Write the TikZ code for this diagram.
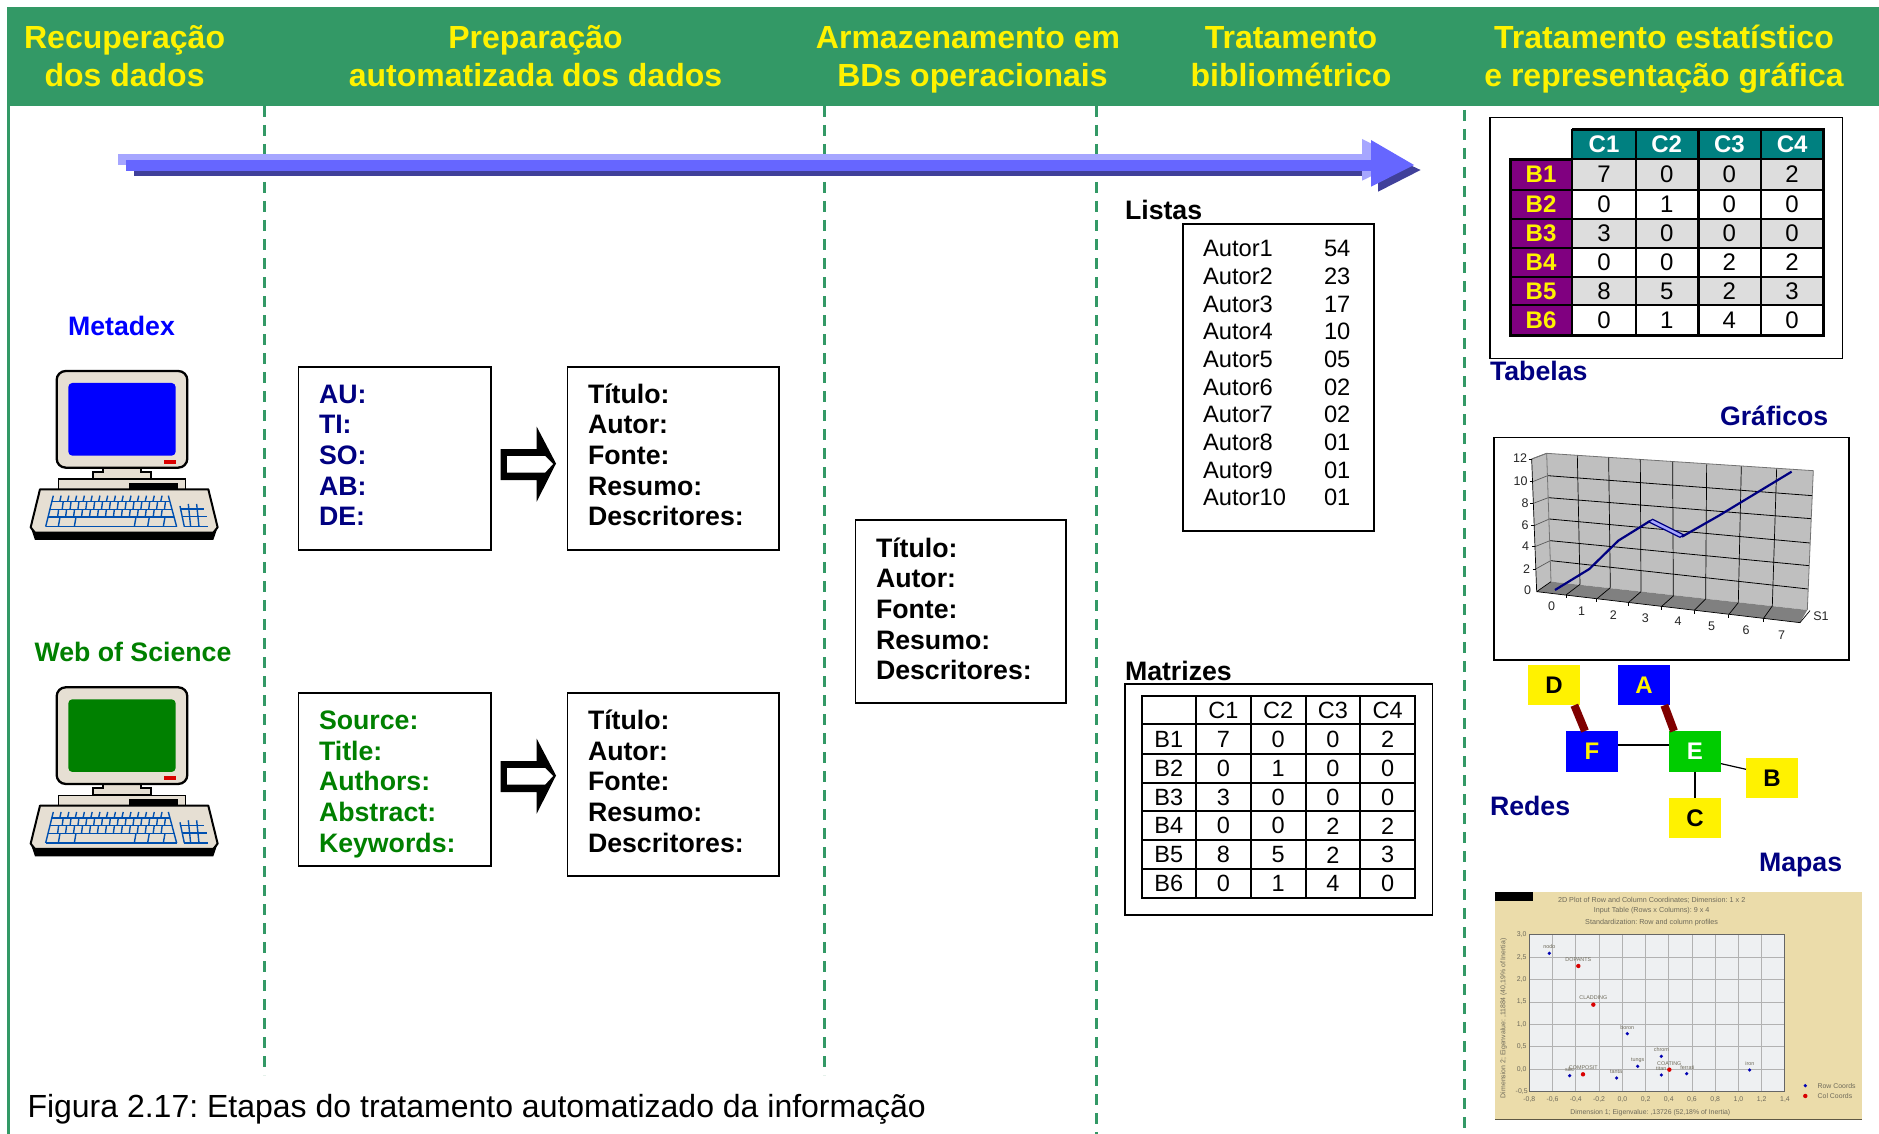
\documentclass[tikz,border=0pt]{standalone}
\usepackage{fontspec}
\setmainfont{Liberation Sans}
\usetikzlibrary{calc}
\definecolor{hgreen}{HTML}{339966}
\definecolor{navyb}{HTML}{000080}
\definecolor{wgreen}{HTML}{008000}
\definecolor{bluep}{HTML}{0000FF}
\definecolor{beige}{HTML}{E6DFD3}
\definecolor{keyblue}{HTML}{0050B0}
\definecolor{tealh}{HTML}{008080}
\definecolor{purp}{HTML}{800080}
\definecolor{cellg}{HTML}{DDDDDD}
\definecolor{darkred}{HTML}{800000}
\definecolor{aLight}{HTML}{A6A6FF}
\definecolor{aMain}{HTML}{6666FF}
\definecolor{aDark}{HTML}{40409A}
\definecolor{mapbg}{HTML}{EBDCAA}
\definecolor{mapplot}{HTML}{EEF0F2}
\definecolor{maptxt}{HTML}{6E6A5A}
\tikzset{
  every node/.style={inner sep=0pt,outer sep=0pt},
  headtxt/.style={font=\fontsize{32}{38.3}\selectfont\bfseries,text=yellow,align=center},
  labeltxt/.style={font=\fontsize{26.7}{30.6}\selectfont\bfseries,align=left,anchor=west},
  listtxt/.style={font=\fontsize{23.7}{28}\selectfont,anchor=west},
  framebox/.style={draw=black,line width=1.4pt,fill=white},
  phasedash/.style={draw=hgreen,line width=3pt,dash pattern=on 11pt off 8pt},
  tabhead/.style={font=\fontsize{24}{28}\selectfont\bfseries},
  tabcell/.style={font=\fontsize{24}{28}\selectfont},
  matcell/.style={font=\fontsize{23.5}{28}\selectfont},
  netnode/.style={minimum width=52pt,minimum height=40.5pt,font=\fontsize{24}{28}\selectfont\bfseries},
  charttxt/.style={font=\fontsize{12.5}{15}\selectfont,text=black!85},
  maptext/.style={font=\fontsize{6.9}{8}\selectfont,text=maptxt},
  maptitle/.style={font=\fontsize{7.2}{8}\selectfont,text=maptxt},
  maplab/.style={font=\fontsize{5.4}{7}\selectfont,text=maptxt},
}
\newcommand{\drawcomputer}[2]{%
  \begin{scope}[shift={(0,#1)},x=0.3333pt,y=-0.3333pt]
    \draw[fill=beige,line width=1.2pt] (175,537) rectangle (557,572);
    \fill[black] (388,548) rectangle (533,570);
    \draw[fill=beige,line width=2pt] (310,503)--(310,515)--(280,515)--(280,537)--(452,537)--(452,515)--(422,515)--(422,503);
    \draw[fill=beige,line width=2.3pt,rounded corners=9pt] (170,213) rectangle (562,503);
    \fill[#2,rounded corners=4pt] (205,249) rectangle (527,467);
    \fill[red!85!black] (491,480) rectangle (528,492);
    \fill[black] (92,682)--(105,720)--(640,720)--(653,682)--cycle;
    \draw[fill=beige,line width=2pt,line join=round] (120,568)--(625,568)--(653,682)--(640,698)--(105,698)--(92,682)--cycle;
    \begin{scope}[draw=keyblue,line width=1.4pt]
      \draw (155,605)--(510,605) (150,628)--(516,628) (144,651)--(522,651) (137,680)--(530,680);
      \draw (160,587)--(137,680) (505,587)--(530,680);
      \foreach \k in {1,...,14}{
        \pgfmathsetmacro\xa{160+23.3*\k}
        \draw (\xa,587)--(\xa-4,605);
        \pgfmathsetmacro\xb{166+23.6*\k}
        \draw (\xb,605)--(\xb-3,628);
        \pgfmathsetmacro\xc{152+23.9*\k}
        \draw (\xc,628)--(\xc-3,651);
      }
      \foreach \k in {180,228,408,448,495}{\draw (\k,651)--(\k-5,680);}
      \draw (540,618)--(553,680) (565,612)--(572,680) (590,612)--(597,680);
      \draw (540,627)--(613,627) (546,650)--(620,650) (553,680)--(625,680);
    \end{scope}
  \end{scope}}
\newcommand{\hollowarrow}[1]{%
  \begin{scope}[shift={(0,#1)}]
    \fill[black] (500.7,449)--(536.7,449)--(536.7,426.7)--(556,463.5)--(536.7,501.7)--(536.7,480)--(500.7,480)--cycle;
    \fill[white] (507,456)--(545,456)--(553,464)--(545,472.7)--(507,472.7)--cycle;
  \end{scope}}
\begin{document}
\frenchspacing
\begin{tikzpicture}[x=1pt,y=-1pt]
\useasboundingbox (0,0) rectangle (1879,1134);
\fill[white] (0,0) rectangle (1879,1134);
% header and phase lines
\fill[hgreen] (7,7) rectangle (1879,106);
\fill[hgreen] (7,106) rectangle (10,1134);
\coordinate (d1t) at (264.3,106); \coordinate (d1b) at (264.3,1075);
\coordinate (d2t) at (824,106);   \coordinate (d2b) at (824,1075);
\coordinate (d3t) at (1096,106);  \coordinate (d3b) at (1096,1134);
\coordinate (d4t) at (1464.6,110);\coordinate (d4b) at (1464.6,1134);
\draw[phasedash] (d1t)--(d1b);
\draw[phasedash] (d2t)--(d2b);
\draw[phasedash] (d3t)--(d3b);
\draw[phasedash] (d4t)--(d4b);
\node[headtxt] (h1) at (124.6,59.6) {\strut Recuperação\\\strut dos dados};
\node[headtxt] (h2) at (535.5,59.6) {\strut Preparação\\\strut automatizada dos dados};
\node[headtxt] (h3) at (968,59.6) {\strut Armazenamento em\\\hspace*{9pt}\strut BDs operacionais};
\node[headtxt] (h4) at (1291,59.6) {\strut Tratamento\\\strut bibliométrico};
\node[headtxt] (h5) at (1664,59.6) {\strut Tratamento estatístico\\\strut e representação gráfica};
% big arrow
\fill[aDark] (134,170.7)--(1385,170.7)--(1385,176)--(134,176)--cycle;
\fill[aDark] (1378,150)--(1420.6,170)--(1378,191.7)--cycle;
\fill[aLight] (118,154)--(1370,154)--(1370,165)--(118,165)--cycle;
\fill[aLight] (1362,139)--(1405,160)--(1362,180.7)--cycle;
\fill[aMain] (126,160)--(1375,160)--(1375,170.7)--(126,170.7)--cycle;
\fill[aMain] (1371,140)--(1414,165)--(1371,186.7)--cycle;
% computers
\node[labeltxt,anchor=center,text=bluep] (metadex) at (121.5,326) {Metadex};
\drawcomputer{300}{bluep}
\node[labeltxt,anchor=center,text=wgreen] (wos) at (133,652) {Web of Science};
\drawcomputer{616.3}{wgreen}
% preparation boxes
\draw[framebox] (298.5,367) rectangle (491,550);
\draw[framebox] (567.7,367) rectangle (779,550);
\draw[framebox] (298.5,693) rectangle (491,866);
\draw[framebox] (567.7,693) rectangle (779,876);
\draw[framebox] (855.5,520) rectangle (1066,703);
\node[labeltxt,text=navyb] (pa) at (319,458.4) {\strut AU:\\\strut TI:\\\strut SO:\\\strut AB:\\\strut DE:};
\node[labeltxt] (pb) at (588,458.4) {\strut Título:\\\strut Autor:\\\strut Fonte:\\\strut Resumo:\\\strut Descritores:};
\node[labeltxt,text=wgreen] (pc) at (319,784.8) {\strut Source:\\\strut Title:\\\strut Authors:\\\strut Abstract:\\\strut Keywords:};
\node[labeltxt] (pd) at (588,784.8) {\strut Título:\\\strut Autor:\\\strut Fonte:\\\strut Resumo:\\\strut Descritores:};
\node[labeltxt] (pe) at (876,612.4) {\strut Título:\\\strut Autor:\\\strut Fonte:\\\strut Resumo:\\\strut Descritores:};
\hollowarrow{0}
\hollowarrow{312}
% lists
\node[labeltxt] (listas) at (1125,210) {Listas};
\draw[framebox] (1183,224) rectangle (1374,531);
\foreach \a/\v [count=\i] in {Autor1/54,Autor2/23,Autor3/17,Autor4/10,Autor5/05,Autor6/02,Autor7/02,Autor8/01,Autor9/01,Autor10/01}{
  \pgfmathsetmacro\ly{248.5+27.7*(\i-1)}
  \node[listtxt] (la\i) at (1203,\ly) {\a};
  \node[listtxt] (lv\i) at (1324,\ly) {\v};
}
% matrix
\node[labeltxt] (matrizes) at (1125,671) {Matrizes};
\draw[framebox] (1125,684) rectangle (1432.5,915);
\draw[line width=2pt,line cap=rect]
  (1142,696)--(1415,696) (1142,724.3)--(1415,724.3) (1142,753.7)--(1415,753.7) (1142,782.7)--(1415,782.7)
  (1142,811.3)--(1415,811.3) (1142,840.3)--(1415,840.3) (1142,869.3)--(1415,869.3) (1142,897.7)--(1415,897.7)
  (1142,696)--(1142,897.7) (1195.7,696)--(1195.7,897.7) (1251,696)--(1251,897.7) (1306,696)--(1306,897.7)
  (1360,696)--(1360,897.7) (1415,696)--(1415,897.7);
\foreach \c [count=\i] in {C1,C2,C3,C4}{
  \pgfmathsetmacro\cx{1223.3+54.8*(\i-1)}
  \node[matcell] (mh\i) at (\cx,710.5) {\c};
}
\foreach \lab/\ry/\vals in {B1/739/{7,0,0,2},B2/768.2/{0,1,0,0},B3/797/{3,0,0,0},B4/825.8/{0,0,2,2},B5/854.8/{8,5,2,3},B6/883.5/{0,1,4,0}}{
  \node[matcell] (m\lab) at (1168.8,\ry) {\lab};
  \foreach \v [count=\c] in \vals {
    \pgfmathsetmacro\cx{1223.3+54.8*(\c-1)}
    \node[matcell] (m\lab\c) at (\cx,\ry) {\v};
  }
}
% coloured table
\draw[framebox] (1490,117.3) rectangle (1842.5,358.3);
\fill[tealh] (1572,129.3) rectangle (1823.8,159.3);
\fill[purp] (1510,159.3) rectangle (1572,335.7);
\fill[cellg] (1572,159.3) rectangle (1823.8,190);
\fill[cellg] (1572,219) rectangle (1823.8,248);
\fill[cellg] (1572,277) rectangle (1823.8,305);
\draw[line width=2.2pt]
  (1510,159.3)--(1823.8,159.3) (1510,190)--(1823.8,190) (1510,219)--(1823.8,219) (1510,248)--(1823.8,248)
  (1510,277)--(1823.8,277) (1510,305)--(1823.8,305)
  (1572,129.3)--(1572,335.7) (1636,129.3)--(1636,335.7) (1698.4,129.3)--(1698.4,335.7) (1760.7,129.3)--(1760.7,335.7);
\draw[line width=3pt] (1572,129.3)--(1823.8,129.3)--(1823.8,335.7)--(1510,335.7)--(1510,159.3)--(1572,159.3);
\foreach \c [count=\i] in {C1,C2,C3,C4}{
  \pgfmathsetmacro\cx{1604+62.7*(\i-1)}
  \node[tabhead,text=white] (th\i) at (\cx,144.3) {\c};
}
\foreach \lab/\ry/\vals in {B1/174.6/{7,0,0,2},B2/204.5/{0,1,0,0},B3/233.5/{3,0,0,0},B4/262.5/{0,0,2,2},B5/291/{8,5,2,3},B6/320.4/{0,1,4,0}}{
  \node[tabhead,text=yellow] (t\lab) at (1541,\ry) {\lab};
  \foreach \v [count=\c] in \vals {
    \pgfmathsetmacro\cx{1604+62.7*(\c-1)}
    \node[tabcell] (t\lab\c) at (\cx,\ry) {\v};
  }
}
\node[labeltxt,text=navyb] (tabelas) at (1490,371) {Tabelas};
\node[labeltxt,text=navyb] (graficos) at (1720,416) {Gráficos};
\node[labeltxt,text=navyb] (redes) at (1490,806) {Redes};
\node[labeltxt,text=navyb] (mapas) at (1759,865.5) {Mapas};
% chart
\draw[framebox] (1494,437.7) rectangle (1849,660);
\begin{scope}[shift={(1470,420)},x=0.3333pt,y=-0.3333pt]
  \fill[black!25] (230,100)--(1030,152)--(1012,570)--(243,485)--cycle;
  \fill[black!25] (185,117)--(230,100)--(243,485)--(200,515)--cycle;
  \fill[black!50] (200,515)--(243,485)--(1012,570)--(990,608)--cycle;
  \foreach \la/\lb/\ra/\rb in {233/167/1027/227,235/233/1023/296,238/297/1020/369,240/362/1017/437,242/422/1014/507}{
    \draw[black,line width=.8pt] (\la,\lb)--(\ra,\rb);
  }
  \foreach \la/\lb/\ra/\rb in {185/117/230/100,188/185/233/167,190/250/235/233,192/317/238/297,195/380/240/362,197/447/242/422}{
    \draw[black!65,line width=.7pt] (\la,\lb)--(\ra,\rb);
  }
  \draw[black!55,line width=.8pt] (230,100)--(1030,152)--(1012,570) (230,100)--(243,485) (185,117)--(230,100);
  \foreach \ta/\tb/\ba/\bb in {322/107/330/493,416/113/421/503,511/119/513/515,608/126/610/528,710/133/707/537,814/139/805/548,920/146/907/558}{
    \draw[black,line width=.7pt] (\ta,\tb)--(\ba,\bb);
  }
  \foreach \fa/\fb/\ba/\bb in {288/525/330/493,380/537/421/503,475/548/513/515,574/560/610/528,672/572/707/537,776/584/805/548,880/596/907/558}{
    \draw[black,line width=.7pt] (\fa,\fb)--(\ba,\bb);
  }
  \draw[black,line width=.7pt] (200,515)--(185,117) (200,515)--(243,485) (200,515)--(990,608)--(1020,572);
  \foreach \ya/\yb in {185/117,188/185,190/250,192/317,195/380,197/447}{\draw[black,line width=.7pt] (\ya-9,\yb)--(\ya,\yb);}
  \foreach \ya/\yb in {288/525,380/537,475/548,574/560,672/572,776/584,880/596}{\draw[black,line width=.7pt] (\ya,\yb)--(\ya,\yb+9);}
  \foreach \t/\xx/\yy [count=\i] in {12/150/115,10/152/185,8/165/250,6/165/317,4/167/380,2/170/447,0/173/512}{
    \node[charttxt] (cy\i) at (\xx,\yy) {\t};
  }
  \foreach \t/\xx/\yy [count=\i] in {0/245/560,1/335/573,2/430/585,3/526/596,4/624/605,5/725/618,6/828/630,7/935/645,S1/1053/590}{
    \node[charttxt] (cx\i) at (\xx,\yy) {\t};
  }
  \draw[fill=aLight,draw=navyb,line width=1.2pt] (535,305)--(548,298)--(642,345)--(630,352)--cycle;
  \draw[navyb,line width=2.2pt,line join=round] (255,510)--(358,447)--(445,362)--(540,303);
  \draw[navyb,line width=2.2pt,line join=round] (636,350)--(745,288)--(965,155);
\end{scope}
% network
\begin{scope}[shift={(1470,420)},x=0.3333pt,y=-0.3333pt]
  \node[netnode,fill=yellow,text=black] (D) at (252,795) {D};
  \node[netnode,fill=bluep,text=yellow] (A) at (522,795) {A};
  \node[netnode,fill=bluep,text=yellow] (F) at (366,994) {F};
  \node[netnode,fill=green!80!black,text=white] (E) at (675,994) {E};
  \node[netnode,fill=yellow,text=black] (B) at (906,1074) {B};
  \node[netnode,fill=yellow,text=black] (C) at (675,1194) {C};
  \draw[darkred,line width=8pt] ($(D.south)+(61,0)$)--($(F.north)+(-21,0)$);
  \draw[darkred,line width=8pt] ($(A.south)+(61,0)$)--($(E.north)+(-63,0)$);
  \draw[black,line width=1.2pt] ($(F.east)+(0,-19)$)--($(E.west)+(0,-19)$);
  \draw[black,line width=1.2pt] ($(E.east)+(0,37)$)--($(B.west)+(0,-26)$);
  \draw[black,line width=1.2pt] (E.south)--(C.north);
\end{scope}
% map
\begin{scope}[shift={(1470,860)},x=0.3333pt,y=-0.3333pt]
  \fill[mapbg] (75,95) rectangle (1175,780);
  \draw[black!60!mapbg,line width=1pt] (75,780)--(1175,780);
  \fill[black] (75,97) rectangle (190,123);
  \node[maptitle] (mt1) at (545,120) {2D Plot of Row and Column Coordinates; Dimension: 1 x 2};
  \node[maptitle] (mt2) at (545,153) {Input Table (Rows x Columns): 9 x 4};
  \node[maptitle] (mt3) at (545,188) {Standardization: Row and column profiles};
  \fill[mapplot] (178,224) rectangle (945,695);
  \foreach \k in {1,...,10}{\pgfmathsetmacro\gx{178+69.73*\k}\draw[black!30,line width=.7pt] (\gx,224)--(\gx,695);}
  \foreach \k in {1,...,6}{\pgfmathsetmacro\gy{224+67.29*\k}\draw[black!30,line width=.7pt] (178,\gy)--(945,\gy);}
  \draw[black!60,line width=1pt] (178,224) rectangle (945,695);
  \foreach \t [count=\k from 0] in {-0{,}8,-0{,}6,-0{,}4,-0{,}2,0{,}0,0{,}2,0{,}4,0{,}6,0{,}8,1{,}0,1{,}2,1{,}4}{
    \pgfmathsetmacro\gx{178+69.73*\k}
    \node[maptext] (mx\k) at (\gx,718) {\t};
  }
  \foreach \t [count=\k from 0] in {3{,}0,2{,}5,2{,}0,1{,}5,1{,}0,0{,}5,0{,}0,-0{,}5}{
    \pgfmathsetmacro\gy{224+67.29*\k}
    \node[maptext] (my\k) at (155,\gy) {\t};
  }
  \node[maptext] (mxl) at (541,757) {Dimension 1; Eigenvalue: ,13726 (52,18\% of Inertia)};
  \node[maptext,rotate=90] (myl) at (101,475) {Dimension 2; Eigenvalue: ,11884 (40,19\% of Inertia)};
  \foreach \px/\py/\lx/\ly/\txt in {238/280/238/261/nodo,472/521/472/502/boron,574/589/574/570/chrom,503/619/503/600/tungs,574/645/574/626/titan,650/641/652/623/ferrati,839/630/840/611/iron,440/654/438/635/tanta,299/647/299/629/silic,1006/677/1006/677/{}}{
    \fill[blue!70!black] (\px,\py) circle (1.8pt);
    \node[maplab] at (\lx,\ly) {\txt};
  }
  \foreach \px/\py/\lx/\ly/\txt in {325/318/325/299/DOPANTS,370/434/370/414/CLADDING,598/629/598/610/COATING,339/643/340/623/COMPOSIT,1006/708/1006/708/{}}{
    \fill[red!85!black] (\px,\py) circle (2.2pt);
    \node[maplab] at (\lx,\ly) {\txt};
  }
  \node[maptext] (leg1) at (1100,679) {Row Coords};
  \node[maptext] (leg2) at (1095,709) {Col Coords};
\end{scope}
\node[font=\fontsize{32}{38}\selectfont,anchor=west] (caption) at (27.5,1109.5) {Figura 2.17: Etapas do tratamento automatizado da informação};
\end{tikzpicture}
\end{document}
